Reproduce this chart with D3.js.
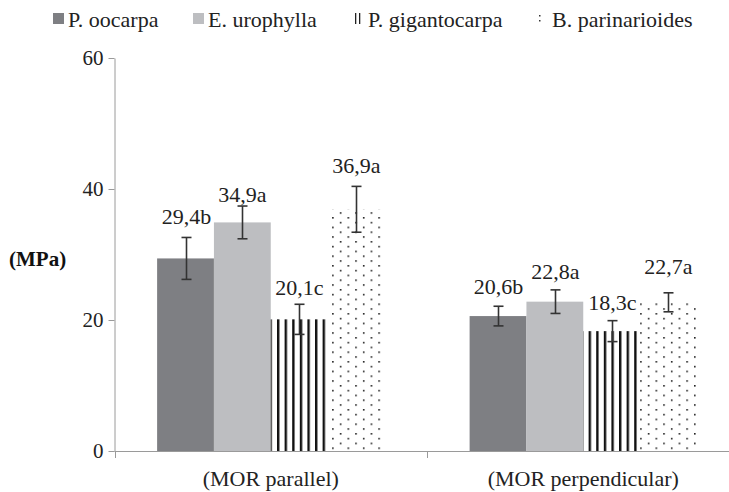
<!DOCTYPE html>
<html>
<head>
<meta charset="utf-8">
<script src="https://cdn.jsdelivr.net/npm/d3@7"></script>
</head>
<body style="margin:0">
<svg id="chart" width="729" height="492" font-family="Liberation Serif"></svg>
<script>
// ---- data ----
const categories = ["(MOR parallel)", "(MOR perpendicular)"];
const seriesNames = ["P. oocarpa", "E. urophylla", "P. gigantocarpa", "B. parinarioides"];
const pOocarpa      = [29.4, 20.6];
const eUrophylla    = [34.9, 22.8];
const pGigantocarpa = [20.1, 18.3];
const bParinarioides= [36.9, 22.7];
const errOocarpa      = [3.2, 1.5];
const errUrophylla    = [2.5, 1.8];
const errGigantocarpa = [2.3, 1.6];
const errParinarioides= [3.5, 1.45];
const lblOocarpa      = ["29,4b", "20,6b"];
const lblUrophylla    = ["34,9a", "22,8a"];
const lblGigantocarpa = ["20,1c", "18,3c"];
const lblParinarioides= ["36,9a", "22,7a"];
const yTicks = [0, 20, 40, 60];

// ---- style / layout ----
const FONT = "Liberation Serif";
const fills = ["#7e7f83", "#bdbec1", "url(#vlines)", "url(#dots)"];
const legendSwatch = ["#7e7f83", "#bdbec1", "url(#vlinesL)", "url(#dotsL)"];
const legendX = [53, 193, 353, 537];
const labelLift = [[20, 11, 16, 20], [19, 18, 18, 26]]; // px above error-bar top (label centre)

const values = [pOocarpa, eUrophylla, pGigantocarpa, bParinarioides];
const errs = [errOocarpa, errUrophylla, errGigantocarpa, errParinarioides];
const labels = [lblOocarpa, lblUrophylla, lblGigantocarpa, lblParinarioides];

const svg = d3.select("#chart");
const defs = svg.append("defs");

const pv = defs.append("pattern").attr("id", "vlines").attr("patternUnits", "userSpaceOnUse")
  .attr("width", 7.6).attr("height", 10).attr("x", 3.4);
pv.append("rect").attr("width", 7.6).attr("height", 10).attr("fill", "#fff");
pv.append("rect").attr("x", 0).attr("width", 2.4).attr("height", 10).attr("fill", "#111");

const pd = defs.append("pattern").attr("id", "dots").attr("patternUnits", "userSpaceOnUse")
  .attr("width", 15.4).attr("height", 9.6).attr("x", 1).attr("y", 1);
pd.append("rect").attr("width", 15.4).attr("height", 9.6).attr("fill", "#fff");
pd.append("rect").attr("x", 0).attr("y", 0).attr("width", 1.6).attr("height", 1.6).attr("fill", "#222");
pd.append("rect").attr("x", 7.7).attr("y", 4.8).attr("width", 1.6).attr("height", 1.6).attr("fill", "#222");

const pvl = defs.append("pattern").attr("id", "vlinesL").attr("patternUnits", "userSpaceOnUse")
  .attr("width", 4).attr("height", 10).attr("x", 355);
pvl.append("rect").attr("width", 4).attr("height", 10).attr("fill", "#fff");
pvl.append("rect").attr("width", 1.3).attr("height", 10).attr("fill", "#222");
const pdl = defs.append("pattern").attr("id", "dotsL").attr("patternUnits", "userSpaceOnUse")
  .attr("width", 11).attr("height", 5).attr("x", 539).attr("y", 15);
pdl.append("rect").attr("width", 11).attr("height", 5).attr("fill", "#fff");
pdl.append("rect").attr("width", 1.5).attr("height", 1.5).attr("fill", "#333");

// ---- scales ----
const x0 = d3.scaleBand().domain(categories).range([114.5, 739.5]).paddingInner(0).paddingOuter(0);
const x1 = d3.scaleBand().domain(seriesNames).range([0, x0.bandwidth()]).paddingOuter(0.75).paddingInner(0);
const y = d3.scaleLinear().domain([0, 60]).range([451, 58]);

// ---- y axis ----
const axisColor = "#9a9a9a";
const yAxis = svg.append("g").attr("transform", "translate(114.5,0)")
  .call(d3.axisLeft(y).tickValues(yTicks).tickSize(6).tickPadding(5).tickSizeOuter(0));
yAxis.attr("font-family", FONT).attr("font-size", 21);
yAxis.select(".domain").attr("stroke", axisColor);
yAxis.selectAll(".tick line").attr("stroke", axisColor);
yAxis.selectAll(".tick text").attr("fill", "#222");

// bars
seriesNames.forEach((s, si) => {
  const g = svg.append("g");
  categories.forEach((c, ci) => {
    const v = values[si][ci];
    g.append("rect")
      .attr("x", x0(c) + x1(s)).attr("y", y(v))
      .attr("width", x1.bandwidth()).attr("height", y(0) - y(v))
      .attr("fill", fills[si]);
  });
});

// x axis
const xAxisG = svg.append("g");
xAxisG.append("line").attr("x1", 114.5).attr("x2", 739.5).attr("y1", 451.5).attr("y2", 451.5)
  .attr("stroke", axisColor);
[x0(categories[0]), x0(categories[1]), x0(categories[1]) + x0.bandwidth()].forEach(b => {
  xAxisG.append("line").attr("x1", Math.round(b) + 0.5).attr("x2", Math.round(b) + 0.5)
    .attr("y1", 451.5).attr("y2", 458).attr("stroke", axisColor);
});
categories.forEach(c => {
  svg.append("text").attr("x", x0(c) + x0.bandwidth() / 2).attr("y", 486)
    .attr("text-anchor", "middle").attr("font-size", 22).attr("fill", "#222")
    .attr("font-family", FONT).text(c);
});

// error bars and labels
seriesNames.forEach((s, si) => {
  categories.forEach((c, ci) => {
    const v = values[si][ci], e = errs[si][ci];
    const cx = Math.round(x0(c) + x1(s) + x1.bandwidth() / 2) + 0.5;
    const g = svg.append("g").attr("stroke", "#333").attr("stroke-width", 1.6);
    g.append("line").attr("x1", cx).attr("x2", cx).attr("y1", y(v + e)).attr("y2", y(v - e));
    g.append("line").attr("x1", cx - 5).attr("x2", cx + 5).attr("y1", y(v + e)).attr("y2", y(v + e));
    g.append("line").attr("x1", cx - 5).attr("x2", cx + 5).attr("y1", y(v - e)).attr("y2", y(v - e));
    svg.append("text").attr("x", cx).attr("y", y(v + e) - labelLift[ci][si] + 7)
      .attr("text-anchor", "middle").attr("font-size", 22).attr("fill", "#222")
      .attr("font-family", FONT).text(labels[si][ci]);
  });
});

// y title
svg.append("text").attr("x", 9).attr("y", 266).attr("font-size", 21).attr("font-weight", "bold")
  .attr("fill", "#111").attr("font-family", FONT).text("(MPa)");

// legend
seriesNames.forEach((s, si) => {
  const lx = legendX[si];
  svg.append("rect").attr("x", lx).attr("y", 13).attr("width", si < 2 ? 11 : 9).attr("height", 11)
    .attr("fill", legendSwatch[si]);
  svg.append("text").attr("x", lx + 15).attr("y", 27).attr("font-size", 22).attr("fill", "#222")
    .attr("font-family", FONT).text(s);
});
</script>
</body>
</html>
